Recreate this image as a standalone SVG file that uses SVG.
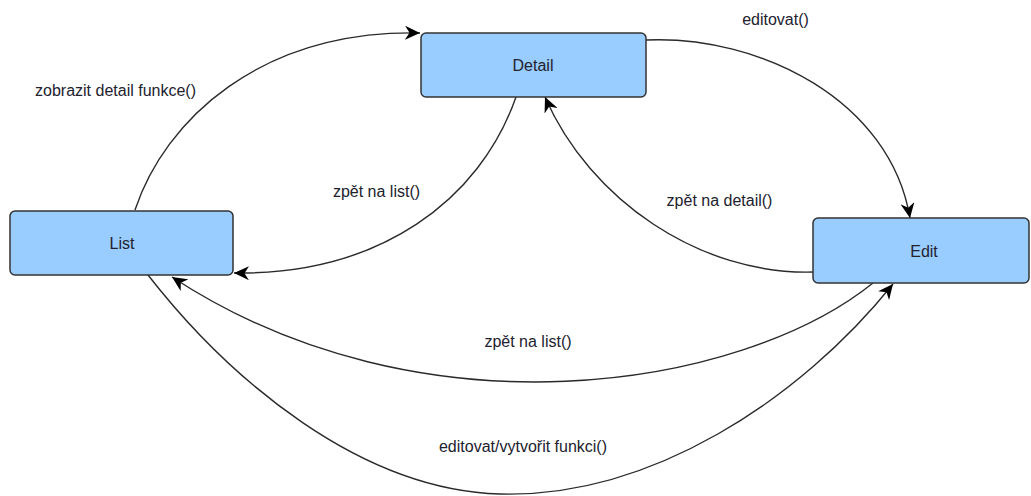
<svg xmlns="http://www.w3.org/2000/svg" width="1031" height="496" viewBox="0 0 1031 496">
<style>
.node{fill:#99ccff;stroke:#333333;stroke-width:1.5}
.lbl{font-family:"Liberation Sans",Arial,sans-serif;font-size:16px;fill:#22222e;text-anchor:middle}
.edge{fill:none;stroke:#2a2a2a;stroke-width:1.4;marker-end:url(#arr)}
</style>
<defs>
<marker id="arr" markerUnits="userSpaceOnUse" markerWidth="16" markerHeight="14" refX="15" refY="7" orient="auto">
<path d="M0,0 L15,7 L0,14 L4.5,7 z" fill="#000000"/>
</marker>
</defs>
<rect width="1031" height="496" fill="#ffffff"/>
<g id="connectors">
<path class="edge" d="M135,210 C165,120 260,30 420,33"/>
<path class="edge" d="M646,40 C760,35 890,100 910,218"/>
<path class="edge" d="M813,272 C700,275 590,200 545,97"/>
<path class="edge" d="M516,97 C480,200 380,275 234,273"/>
<path class="edge" d="M873,283 C740,390 420,440 172,277"/>
<path class="edge" d="M148,275 C230,380 360,490 500,494 C650,498 800,400 893,284"/>
<text class="lbl" x="115.5" y="96">zobrazit detail funkce()</text>
<text class="lbl" x="775.5" y="25">editovat()</text>
<text class="lbl" x="719.5" y="206">zpět na detail()</text>
<text class="lbl" x="376.5" y="197">zpět na list()</text>
<text class="lbl" x="528" y="347">zpět na list()</text>
<text class="lbl" x="523" y="452">editovat/vytvořit funkci()</text>
</g>
<g id="node-list">
<rect class="node" x="10" y="211" width="223" height="64" rx="5"/>
<text class="lbl" x="122" y="249">List</text>
</g>
<g id="node-detail">
<rect class="node" x="421" y="33" width="225" height="64" rx="5"/>
<text class="lbl" x="533" y="71">Detail</text>
</g>
<g id="node-edit">
<rect class="node" x="813" y="218" width="216" height="65" rx="5"/>
<text class="lbl" x="924" y="257">Edit</text>
</g>
</svg>
